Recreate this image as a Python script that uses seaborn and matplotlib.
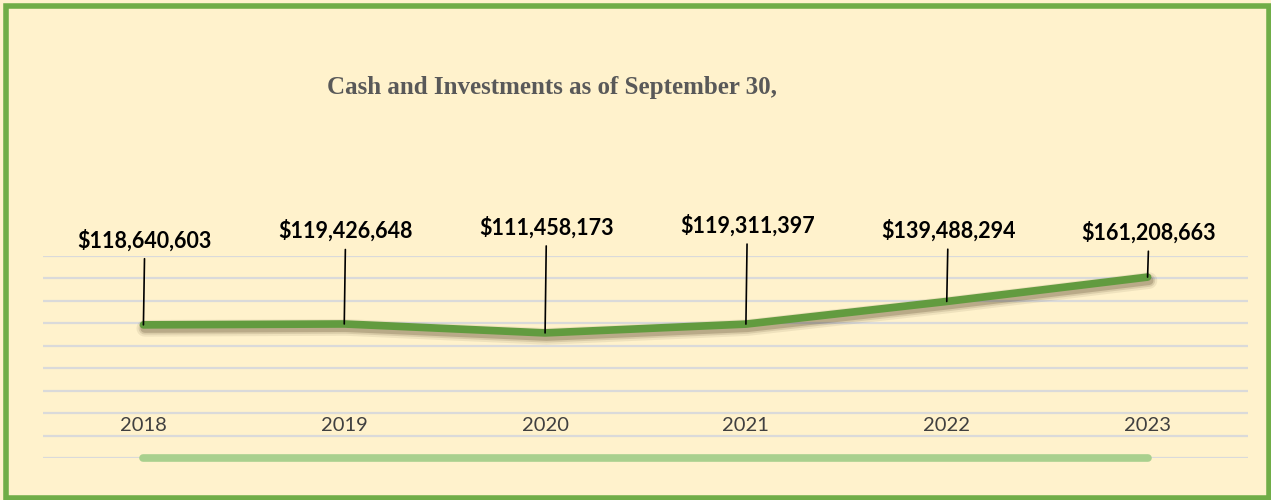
import matplotlib
matplotlib.use('Agg')
import matplotlib.pyplot as plt
import matplotlib.patheffects as pe
import matplotlib.transforms as mtransforms
from matplotlib.patches import Rectangle
import seaborn as sns
import pandas as pd

# data
years = ['2018', '2019', '2020', '2021', '2022', '2023']
cash = [118640603, 119426648, 111458173, 119311397, 139488294, 161208663]
# vertical offset (points) of each value label above its point
label_offsets = [61, 67, 76, 71, 51, 32]

bg = '#FFF2CC'
green = '#629B3F'
light_green = '#A9D08E'

sns.set_theme(style='white')
plt.rcParams['font.family'] = ['Lato', 'DejaVu Sans']

df = pd.DataFrame({'year': range(len(years)), 'cash': [v / 1e6 for v in cash]})

fig = plt.figure(figsize=(12.71, 5), dpi=100, facecolor=bg)
ax = fig.add_axes([43 / 1271, 42 / 500, 1205 / 1271, 202 / 500])
ax.set_facecolor(bg)

ax.set_xlim(-0.5, len(years) - 0.5)
ax.set_ylim(0, 180)
ax.set_yticks(range(0, 181, 20))
ax.yaxis.grid(True, color='#DADADA', linewidth=1.6)
ax.set_axisbelow(True)
for s in ax.spines.values():
    s.set_visible(False)
ax.set_xticks([])
ax.tick_params(left=False, labelleft=False)

# light green base line along zero
ax.plot([df.year.min(), df.year.max()], [0, 0], color=light_green, lw=5.5,
        solid_capstyle='round', zorder=2, clip_on=False)

# soft shadow built from a few faint offset strokes
shadow = [pe.SimpleLineShadow(offset=(1, -2.5), shadow_color='#3a2a10', alpha=a, linewidth=w)
          for a, w in [(0.08, 12), (0.12, 9), (0.2, 6.5)]]
sns.lineplot(data=df, x='year', y='cash', ax=ax, color=green, lw=5.5,
             zorder=3, solid_capstyle='round',
             path_effects=shadow + [pe.Normal()])
ax.set_xlabel('')
ax.set_ylabel('')

# value labels with leader lines
for i, (v, off) in enumerate(zip(df.cash, label_offsets)):
    ax.annotate(f'${cash[i]:,}', xy=(i, v), xytext=(1, off), textcoords='offset points',
                ha='center', va='center', fontsize=15.5, fontweight='bold', color='black',
                arrowprops=dict(arrowstyle='-', color='black', lw=1.2,
                                shrinkA=3, shrinkB=0), zorder=4)

# year labels sit inside the plot area
trans = mtransforms.blended_transform_factory(ax.transData, ax.transAxes)
for i, y in enumerate(years):
    ax.text(i, 0.163, y, transform=trans, ha='center', va='center',
            fontsize=14.5, color='#404040')

fig.text(552 / 1271, 1 - 88 / 500, 'Cash and Investments as of September 30,',
         ha='center', va='center', fontsize=18, fontweight='bold', color='#595959',
         family='Liberation Serif')

# green frame around the chart
fig.patches.append(Rectangle((5.5 / 1271, 2.5 / 500), 1263 / 1271, 492 / 500,
                             transform=fig.transFigure, fill=False,
                             edgecolor='#70AD47', lw=4, zorder=10))

fig.savefig('out.png', dpi=100, facecolor=bg)
